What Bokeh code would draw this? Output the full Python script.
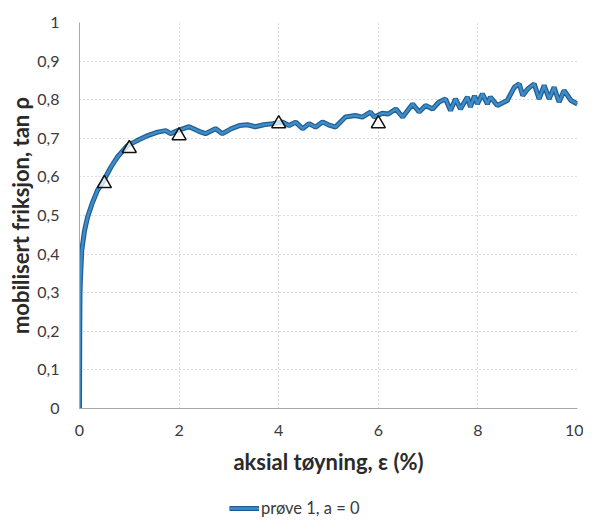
from bokeh.plotting import figure
from bokeh.layouts import column
from bokeh.models import Legend, LegendItem, FixedTicker
from bokeh.embed import file_html
from bokeh.resources import INLINE

# axial strain (%) and mobilised friction tan rho
strain = [0, 0.005, 0.01, 0.02, 0.046, 0.1, 0.16, 0.25, 0.36, 0.46, 0.63, 0.76, 0.96,
          1.16, 1.37, 1.57, 1.73, 1.83, 1.97, 2.2, 2.4, 2.53, 2.73, 2.87, 3.05, 3.21,
          3.37, 3.53, 3.7, 3.88, 4.08, 4.21, 4.34, 4.48, 4.61, 4.74, 4.88, 5.0, 5.14,
          5.34, 5.54, 5.68, 5.84, 5.92, 6.08, 6.2, 6.35, 6.49, 6.69, 6.82, 6.95, 7.09,
          7.22, 7.35, 7.45, 7.55, 7.65, 7.79, 7.85, 7.93, 7.99, 8.09, 8.19, 8.25, 8.39,
          8.59, 8.73, 8.83, 8.9, 9.0, 9.13, 9.23, 9.33, 9.43, 9.53, 9.63, 9.73, 9.87, 10.0]
friction = [0, 0.2, 0.3, 0.34, 0.41, 0.46, 0.495, 0.53, 0.565, 0.585, 0.625, 0.651, 0.681,
            0.694, 0.707, 0.716, 0.72, 0.712, 0.72, 0.73, 0.718, 0.712, 0.725, 0.712, 0.725, 0.733,
            0.735, 0.73, 0.735, 0.738, 0.742, 0.733, 0.742, 0.725, 0.738, 0.729, 0.742, 0.735, 0.729,
            0.755, 0.759, 0.755, 0.768, 0.755, 0.765, 0.763, 0.776, 0.755, 0.789, 0.768, 0.785, 0.776,
            0.794, 0.802, 0.772, 0.802, 0.776, 0.807, 0.781, 0.81, 0.789, 0.815, 0.789, 0.807, 0.785,
            0.798, 0.832, 0.841, 0.811, 0.828, 0.841, 0.802, 0.837, 0.802, 0.832, 0.794, 0.824, 0.798, 0.789]

mark_strain = [0.5, 1, 2, 4, 6]
mark_friction = [0.583, 0.674, 0.707, 0.738, 0.738]

x_ticks = [0, 2, 4, 6, 8, 10]
y_ticks = [0, 0.1, 0.2, 0.3, 0.4, 0.5, 0.6, 0.7, 0.8, 0.9, 1.0]
y_tick_labels = ["0", "0,1", "0,2", "0,3", "0,4", "0,5", "0,6", "0,7", "0,8", "0,9", "1"]
series_label = "prøve 1, a = 0"
x_title = "aksial tøyning, ε (%)"
y_title = "mobilisert friksjon, tan ρ"

FONT = "Lato"
DARK = "#1f5f95"
LIGHT = "#3f8cc6"

p = figure(frame_width=498, frame_height=386, x_range=(0, 10), y_range=(0, 1),
           output_backend="svg", toolbar_location=None,
           min_border_left=79, min_border_right=6, min_border_top=22, min_border_bottom=88)
p.outline_line_color = None
p.background_fill_color = "white"
p.border_fill_color = "white"

for ax in (p.xaxis[0], p.yaxis[0]):
    ax.major_tick_line_color = None
    ax.minor_tick_line_color = None
    ax.axis_line_color = "#a8a8a8"
    ax.major_label_text_font = FONT
    ax.major_label_text_font_size = "16px"
    ax.major_label_text_color = "#3a3a3a"
    ax.axis_label_text_font = FONT
    ax.axis_label_text_font_size = "22px"
    ax.axis_label_text_font_style = "bold"
    ax.axis_label_text_color = "#2a2a2a"

p.xaxis.ticker = FixedTicker(ticks=x_ticks)
p.yaxis.ticker = FixedTicker(ticks=y_ticks)
p.yaxis.major_label_overrides = {t: l for t, l in zip(y_ticks, y_tick_labels)}
p.xaxis.axis_label = x_title
p.yaxis.axis_label = y_title
p.xaxis.major_label_standoff = 10
p.yaxis.major_label_standoff = 14
p.xaxis.axis_label_standoff = 9
p.yaxis.axis_label_standoff = 0

for g in (p.xgrid[0], p.ygrid[0]):
    g.grid_line_color = "#b8b8b8"
    g.grid_line_dash = "1 3"
    g.grid_line_width = 1

p.line(strain, friction, line_color=DARK, line_width=5)
p.line(strain, friction, line_color=LIGHT, line_width=2.5)
p.scatter(mark_strain, mark_friction, marker="triangle", size=14,
          fill_color="white", fill_alpha=0.75, line_color="#111111", line_width=1.5)

# legend strip under the chart (sample lines lie outside its visible range)
leg = figure(width=583, height=26, x_range=(0, 1), y_range=(0, 1),
             x_axis_type=None, y_axis_type=None,
             output_backend="svg", toolbar_location=None,
             min_border=0, min_border_left=0, min_border_right=0,
             min_border_top=0, min_border_bottom=0)
leg.grid.visible = False
leg.outline_line_color = None
lr1 = leg.line([-2, -1], [-2, -1], line_color=DARK, line_width=5)
lr2 = leg.line([-2, -1], [-2, -1], line_color=LIGHT, line_width=2.5)
legend = Legend(items=[LegendItem(label=series_label, renderers=[lr1, lr2])],
                location=(150, 4), orientation="horizontal",
                label_text_font=FONT, label_text_font_size="16.5px",
                label_text_color="#3a3a3a", glyph_width=30, glyph_height=20, label_standoff=2,
                border_line_color=None, background_fill_alpha=0, margin=0, padding=1)
leg.add_layout(legend, "center")

layout = column(p, leg, spacing=0)
open("out.html", "w").write(file_html(layout, INLINE))
